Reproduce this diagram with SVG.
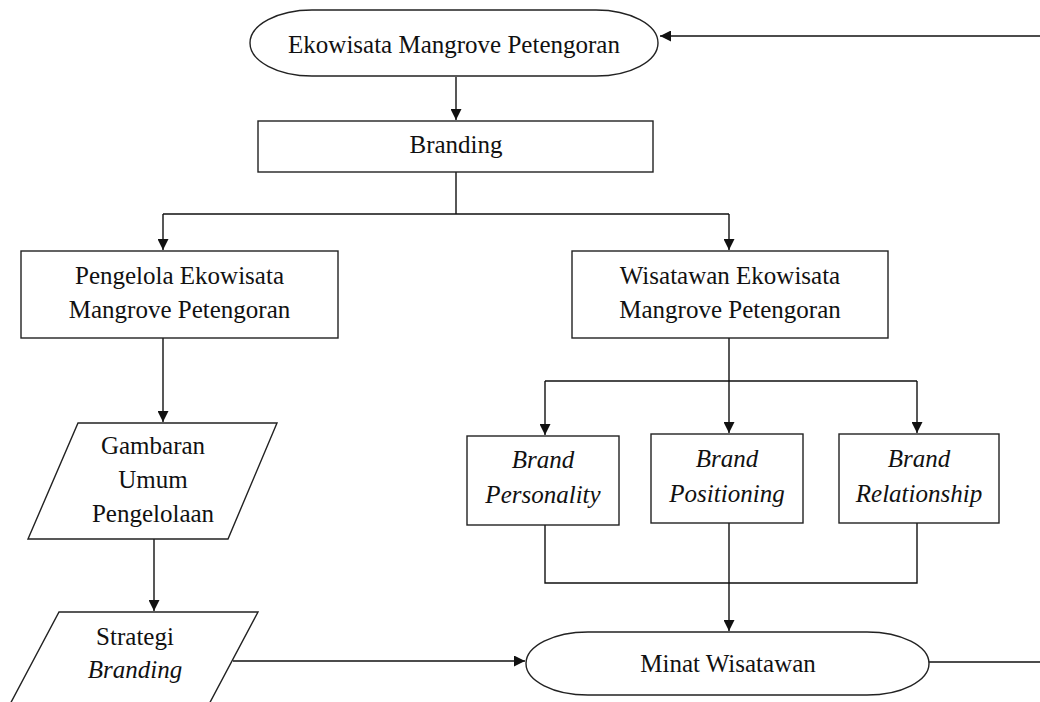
<svg xmlns="http://www.w3.org/2000/svg" width="1040" height="702" viewBox="0 0 1040 702" font-family="'Liberation Serif', 'Times New Roman', Tinos, 'DejaVu Serif', serif">
<style>
.s{fill:#fff;stroke:#222;stroke-width:1.4}
.c{fill:none;stroke:#111;stroke-width:1.4}
text{font-family:'Liberation Serif','Times New Roman',Tinos,'DejaVu Serif',serif;font-size:25px;fill:#111;text-anchor:middle}
.i{font-style:italic}
</style>
<defs>
<marker id="a" viewBox="0 0 10 10" refX="10" refY="5" markerWidth="11" markerHeight="11" markerUnits="userSpaceOnUse" orient="auto">
<path d="M0,0 L10,5 L0,10 z" fill="#111"/>
</marker>
</defs>
<g id="connectors">
<path class="c" d="M1040,36 L660,36" marker-end="url(#a)"/>
<path class="c" d="M456,77 L456,120" marker-end="url(#a)"/>
<path class="c" d="M456,172 L456,214 M163,214 L729,214"/>
<path class="c" d="M163,214 L163,250" marker-end="url(#a)"/>
<path class="c" d="M729,214 L729,250" marker-end="url(#a)"/>
<path class="c" d="M163,338 L163,422" marker-end="url(#a)"/>
<path class="c" d="M154,539 L154,611" marker-end="url(#a)"/>
<path class="c" d="M729,338 L729,381 M545,381 L917,381"/>
<path class="c" d="M545,381 L545,435" marker-end="url(#a)"/>
<path class="c" d="M729,381 L729,433" marker-end="url(#a)"/>
<path class="c" d="M917,381 L917,433" marker-end="url(#a)"/>
<path class="c" d="M545,525 L545,583 L917,583 L917,523"/>
<path class="c" d="M729,523 L729,631" marker-end="url(#a)"/>
<path class="c" d="M233,661 L525,661" marker-end="url(#a)"/>
<path class="c" d="M929,662 L1040,662"/>
</g>
<g id="n-ekowisata">
<rect class="s" x="250" y="10" width="408" height="66" rx="62" ry="33"/>
<text x="454" y="53">Ekowisata Mangrove Petengoran</text>
</g>
<g id="n-branding">
<rect class="s" x="258" y="121" width="395" height="51"/>
<text x="456" y="153">Branding</text>
</g>
<g id="n-pengelola">
<rect class="s" x="21" y="251" width="317" height="87"/>
<text x="179.500" y="284">Pengelola Ekowisata</text>
<text x="179.500" y="318">Mangrove Petengoran</text>
</g>
<g id="n-wisatawan">
<rect class="s" x="572" y="251" width="316" height="87"/>
<text x="730" y="284">Wisatawan Ekowisata</text>
<text x="730" y="318">Mangrove Petengoran</text>
</g>
<g id="n-gambaran">
<polygon class="s" points="78,423 277,423 228,539 28,539"/>
<text x="153" y="454">Gambaran</text>
<text x="153" y="488">Umum</text>
<text x="153" y="522">Pengelolaan</text>
</g>
<g id="n-strategi">
<polygon class="s" points="59,612 258,612 190,740 -9,740"/>
<text x="135" y="645">Strategi</text>
<text x="135" y="678" class="i">Branding</text>
</g>
<g id="n-personality">
<rect class="s" x="467" y="436" width="152" height="89"/>
<text x="543" y="468" class="i">Brand</text>
<text x="543" y="503" class="i">Personality</text>
</g>
<g id="n-positioning">
<rect class="s" x="651" y="434" width="152" height="89"/>
<text x="727" y="467" class="i">Brand</text>
<text x="727" y="502" class="i">Positioning</text>
</g>
<g id="n-relationship">
<rect class="s" x="839" y="434" width="160" height="89"/>
<text x="919" y="467" class="i">Brand</text>
<text x="919" y="502" class="i">Relationship</text>
</g>
<g id="n-minat">
<rect class="s" x="526" y="632" width="403" height="63" rx="62" ry="31.500"/>
<text x="728" y="672">Minat Wisatawan</text>
</g>
</svg>
